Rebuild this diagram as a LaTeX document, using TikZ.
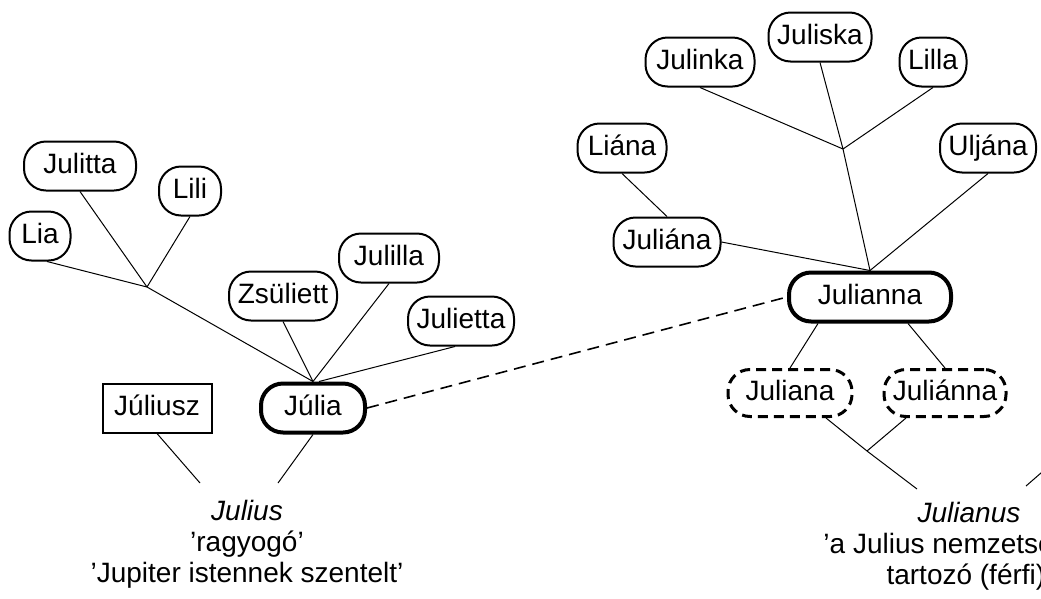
\documentclass[tikz,border=0pt]{standalone}
\usepackage{fontspec}
\setmainfont{Liberation Sans}
\usetikzlibrary{calc}
\begin{document}
\begin{tikzpicture}[x=1pt,y=-1pt,
  nm/.style={draw, rounded corners=22pt, line width=2pt, minimum height=49pt, inner sep=0pt, text height=20pt, text depth=6pt, font=\fontsize{28}{31}\selectfont},
  nmmain/.style={nm, line width=4pt},
  nmvar/.style={nm, line width=3pt, minimum height=47pt, dash pattern=on 10pt off 6pt},
  nmrect/.style={nm, rounded corners=0pt},
  link/.style={line width=1pt},
  rel/.style={line width=1.6pt, dash pattern=on 12pt off 7pt},
  etym/.style={align=center, font=\fontsize{28}{31}\selectfont, inner sep=0pt}]
\clip (0,0) rectangle (1041,598);
\fill[white] (0,0) rectangle (1041,598);
% left family
\node[nm, minimum width=112] (julitta) at (80,166) {Julitta};
\node[nm, minimum width=62] (lili) at (190,191) {Lili};
\node[nm, minimum width=61] (lia) at (40,236) {Lia};
\node[nm, minimum width=108] (zsuliett) at (283,296) {Zsüliett};
\node[nm, minimum width=100] (julilla) at (389,258) {Julilla};
\node[nm, minimum width=106] (julietta) at (461,321) {Julietta};
\node[nmmain, minimum width=104] (julia) at (313,408) {Júlia};
\node[nmrect, minimum width=109] (juliusz) at (157,408) {Júliusz};
% right family
\node[nm, minimum width=109] (julinka) at (700,62) {Julinka};
\node[nm, minimum width=103] (juliska) at (820,37) {Juliska};
\node[nm, minimum width=67] (lilla) at (933,62) {Lilla};
\node[nm, minimum width=89] (liana) at (622,148) {Liána};
\node[nm, minimum width=96] (uljana) at (988,148) {Uljána};
\node[nm, minimum width=107] (juliana2) at (667,242) {Juliána};
\node[nmmain, minimum width=162] (julianna) at (870,297) {Julianna};
\node[nmvar, minimum width=124] (juliana) at (790,393) {Juliana};
\node[nmvar, minimum width=122] (juliannaa) at (945,393) {Juliánna};
% etymons
\node[etym] (julius) at (247,544) {\textit{Julius}\\’ragyogó’\\’Jupiter istennek szentelt’};
\node[etym] (julianus) at (969,546) {\textit{Julianus}\\’a Julius nemzetséghez\\tartozó (férfi)’};
% junctions
\coordinate (hubL) at (147,287);
\coordinate (hubR) at (843,149);
\coordinate (hubB) at (867,451);
\coordinate (juliusL) at (200,483);
\coordinate (juliusR) at (278,483);
\coordinate (julianusL) at (917,489);
\coordinate (julianusR) at (1026,486);
\coordinate (offR) at (1080,439);
% connectors left
\draw[link] ($(lia.south)+(7,0)$) -- (hubL);
\draw[link] (julitta.south) -- (hubL);
\draw[link] (lili.south) -- (hubL);
\draw[link] (hubL) -- (julia.north);
\draw[link] (zsuliett.south) -- (julia.north);
\draw[link] (julilla.south) -- (julia.north);
\draw[link] ($(julietta.south)+(-6,0)$) -- ($(julia.north)+(6,0)$);
\draw[link] (juliusz.south) -- (juliusL);
\draw[link] (julia.south) -- (juliusR);
% connectors right
\draw[link] (julinka.south) -- (hubR);
\draw[link] (lilla.south) -- (hubR);
\draw[link] (juliska.south) -- (hubR) -- (julianna.north);
\draw[link] (liana.south) -- (juliana2.north);
\draw[link] (juliana2.east) -- (julianna.north);
\draw[link] (uljana.south) -- (julianna.north);
\draw[link] ($(julianna.south)+(-52,0)$) -- (juliana.north);
\draw[link] ($(julianna.south)+(38,0)$) -- (juliannaa.north);
\draw[link] ($(juliana.south)+(36,0)$) -- (hubB) -- (julianusL);
\draw[link] ($(juliannaa.south)+(-39,0)$) -- (hubB);
\draw[link] (julianusR) -- (offR);
\draw[rel] (julia.east) -- (julianna.west);
\end{tikzpicture}
\end{document}
